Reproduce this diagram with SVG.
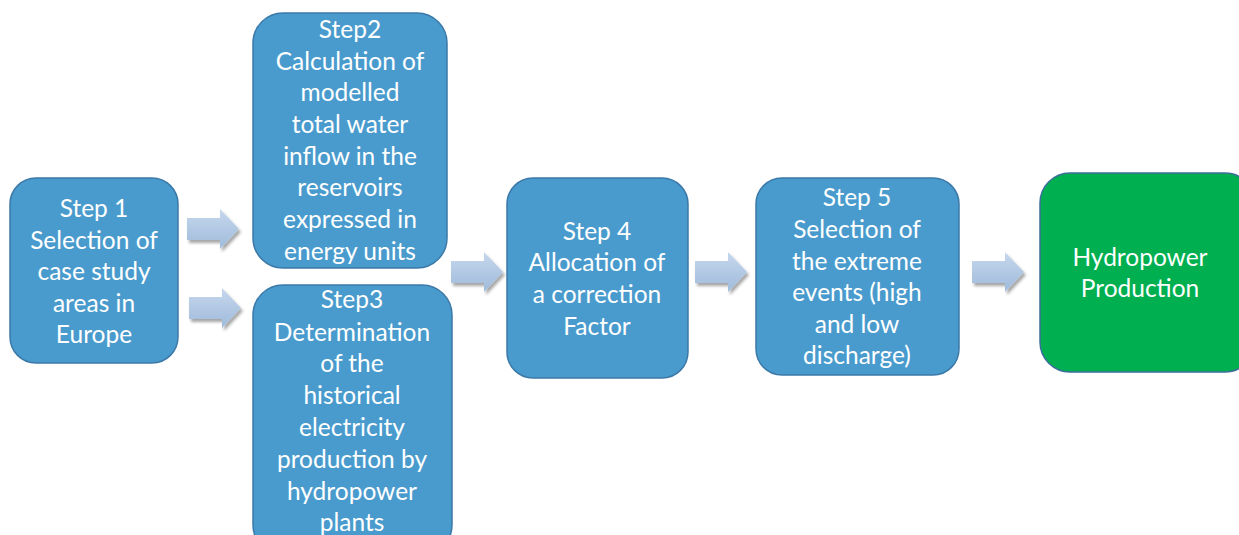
<svg xmlns="http://www.w3.org/2000/svg" width="1239" height="535" viewBox="0 0 1239 535">
<defs>
<linearGradient id="ag" x1="0" y1="0" x2="0" y2="1">
<stop offset="0" stop-color="#c6d7ec"/>
<stop offset="1" stop-color="#9fbbdc"/>
</linearGradient>
<filter id="sh" x="-20%" y="-20%" width="150%" height="160%">
<feDropShadow dx="2" dy="3" stdDeviation="1.5" flood-color="#000" flood-opacity="0.35"/>
</filter>
<path id="arr" d="M0,-11 L33,-11 L33,-20 L52,0 L33,20 L33,11 L0,11 Z"/>
</defs>
<style>
.box{fill:#4a9bcd;stroke:#3b79a8;stroke-width:1.5}
.green{fill:#00b050;stroke:#3b6f9a;stroke-width:1.5}
.t{font-family:Lato,"Liberation Sans",sans-serif;font-size:24.5px;fill:#fff;text-anchor:middle}
.a{fill:url(#ag);filter:url(#sh)}
</style>
<rect width="1239" height="535" fill="#fff"/>
<g id="connectors">
<use href="#arr" class="a" x="187" y="229"/>
<use href="#arr" class="a" x="189" y="308"/>
<use href="#arr" class="a" x="451" y="272"/>
<use href="#arr" class="a" x="695" y="272"/>
<use href="#arr" class="a" x="972" y="272"/>
</g>
<g id="step1">
<rect class="box" x="10" y="178" width="168" height="185" rx="26"/>
<text class="t" x="94" y="217">Step 1</text>
<text class="t" x="94" y="249">Selection of</text>
<text class="t" x="94" y="280">case study</text>
<text class="t" x="94" y="312">areas in</text>
<text class="t" x="94" y="343">Europe</text>
</g>
<g id="step2">
<rect class="box" x="253" y="13" width="194" height="255" rx="30"/>
<text class="t" x="350" y="38">Step2</text>
<text class="t" x="350" y="70">Calculation of</text>
<text class="t" x="350" y="101">modelled</text>
<text class="t" x="350" y="133">total water</text>
<text class="t" x="350" y="165">inflow in the</text>
<text class="t" x="350" y="196">reservoirs</text>
<text class="t" x="350" y="228">expressed in</text>
<text class="t" x="350" y="260">energy units</text>
</g>
<g id="step3">
<rect class="box" x="253" y="285" width="199" height="270" rx="30"/>
<text class="t" x="352" y="308">Step3</text>
<text class="t" x="352" y="341">Determination</text>
<text class="t" x="352" y="372">of the</text>
<text class="t" x="352" y="404">historical</text>
<text class="t" x="352" y="436">electricity</text>
<text class="t" x="352" y="468">production by</text>
<text class="t" x="352" y="500">hydropower</text>
<text class="t" x="352" y="531">plants</text>
</g>
<g id="step4">
<rect class="box" x="507" y="178" width="181" height="200" rx="26"/>
<text class="t" x="597" y="240">Step 4</text>
<text class="t" x="597" y="271">Allocation of</text>
<text class="t" x="597" y="303">a correction</text>
<text class="t" x="597" y="335">Factor</text>
</g>
<g id="step5">
<rect class="box" x="756" y="178" width="203" height="197" rx="26"/>
<text class="t" x="857" y="206">Step 5</text>
<text class="t" x="857" y="238">Selection of</text>
<text class="t" x="857" y="270">the extreme</text>
<text class="t" x="857" y="301">events (high</text>
<text class="t" x="857" y="333">and low</text>
<text class="t" x="857" y="364">discharge)</text>
</g>
<g id="output">
<rect class="green" x="1040" y="173" width="215" height="199" rx="30"/>
<text class="t" x="1140" y="266">Hydropower</text>
<text class="t" x="1140" y="297">Production</text>
</g>
</svg>
